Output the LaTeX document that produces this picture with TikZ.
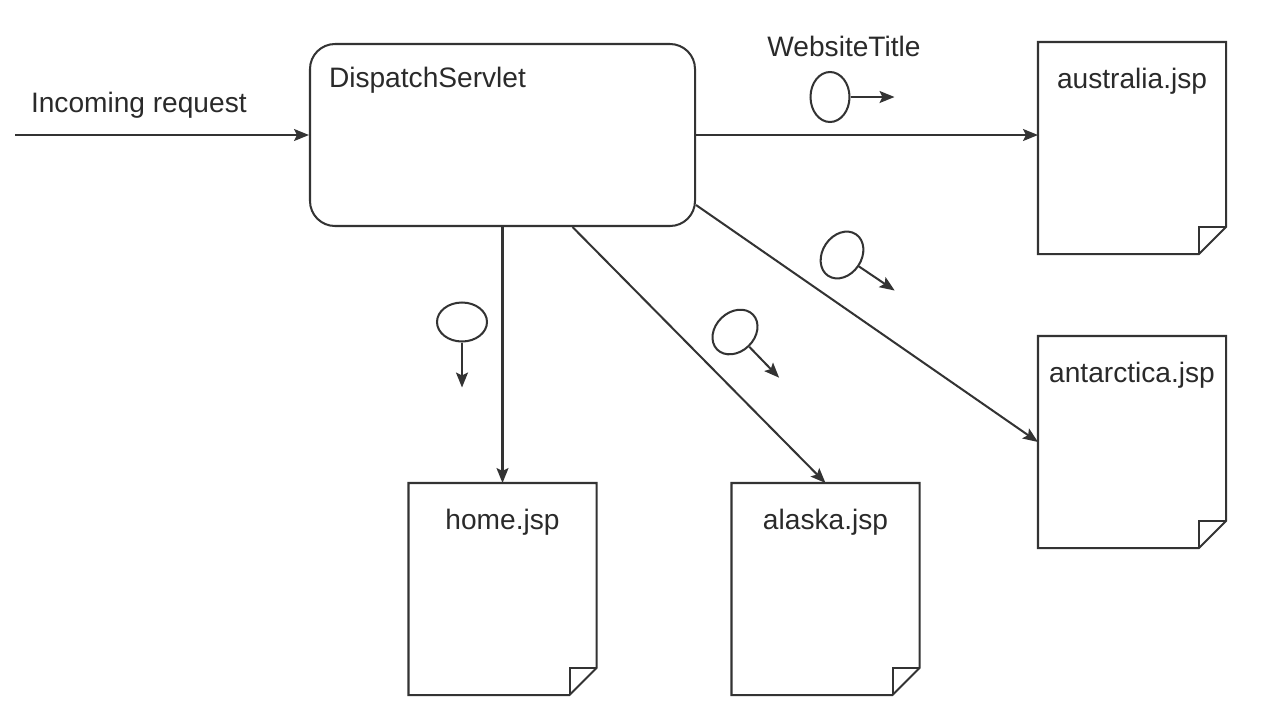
\documentclass[tikz,border=0pt]{standalone}
\usepackage{fontspec}
\setmainfont{Liberation Sans}
\usetikzlibrary{positioning,shapes.geometric,arrows.meta}

\definecolor{lineclr}{HTML}{333333}
\definecolor{textclr}{HTML}{2A2A2A}

\tikzset{
    page/.style={minimum width=3.72cm, minimum height=4.2cm, inner sep=0pt},
    token/.style={draw, ellipse, minimum width=0.78cm, minimum height=1cm, inner sep=0pt},
    labeltext/.style={inner sep=0pt, text=textclr, font=\fontsize{16}{19}\selectfont},
    flow/.style={-{Stealth[length=3mm, width=2.4mm, inset=0.6mm]}}
}

\begin{document}
\begin{tikzpicture}[line width=1.15pt, color=lineclr]

    \useasboundingbox (0,0) rectangle (25.32,-14.48);

    \node[draw,
        rounded corners=0.5cm,
        minimum width=7.7cm,
        minimum height=3.64cm
    ] (servlet) at (10.05,-2.70){};
    \node[labeltext, anchor=west] (servletname) at (6.56,-1.6){DispatchServlet};

    \node[page] (australia) at (22.64,-2.96){};
    \node[page] (antarctica) at (22.64,-8.84){};
    \node[page] (home) at (10.05,-11.78){};
    \node[page] (alaska) at (16.51,-11.78){};

    \foreach \p in {australia,antarctica,home,alaska}{
        \draw (\p.north west) -- (\p.north east) -- ([yshift=0.54cm]\p.south east)
            -- ([xshift=-0.54cm]\p.south east) -- (\p.south west) -- cycle;
        \draw ([xshift=-0.54cm]\p.south east) -- ++(0,0.54) -- ([yshift=0.54cm]\p.south east);
    }

    \node[labeltext] (australianame) at ([yshift=-0.78cm]australia.north){australia.jsp};
    \node[labeltext] (antarcticaname) at ([yshift=-0.78cm]antarctica.north){antarctica.jsp};
    \node[labeltext] (homename) at ([yshift=-0.78cm]home.north){home.jsp};
    \node[labeltext] (alaskaname) at ([yshift=-0.78cm]alaska.north){alaska.jsp};

    \coordinate (start) at (0.3,-2.70);
    \draw[flow] (start) -- (servlet.west);
    \node[labeltext, anchor=west] (incoming) at (0.6,-2.11){Incoming request};

    \draw[flow] (servlet.east) -- (servlet.east -| australia.west);
    \draw[flow] ([yshift=-1.4cm]servlet.east) -- (antarctica.west);
    \draw[flow] (servlet.south) -- (home.north);
    \draw[flow] ([xshift=1.4cm]servlet.south) -- (alaska.north);

    \node[token] (titletoken) at (16.6,-1.94){};
    \node[labeltext] (titlename) at (16.88,-0.92){WebsiteTitle};
    \draw[flow] (titletoken.east) -- ++(0.88,0);

    \node[token, rotate=-34] (antarcticatoken) at (16.84,-5.1){};
    \draw[flow] (antarcticatoken.east) -- ++(-34:0.86);

    \node[token, rotate=-46] (alaskatoken) at (14.7,-6.64){};
    \draw[flow] (alaskatoken.east) -- ++(-46:0.86);

    \node[token, rotate=-90] (hometoken) at (9.24,-6.44){};
    \draw[flow] (hometoken.east) -- ++(0,-0.9);

    \end{tikzpicture}
\end{document}
